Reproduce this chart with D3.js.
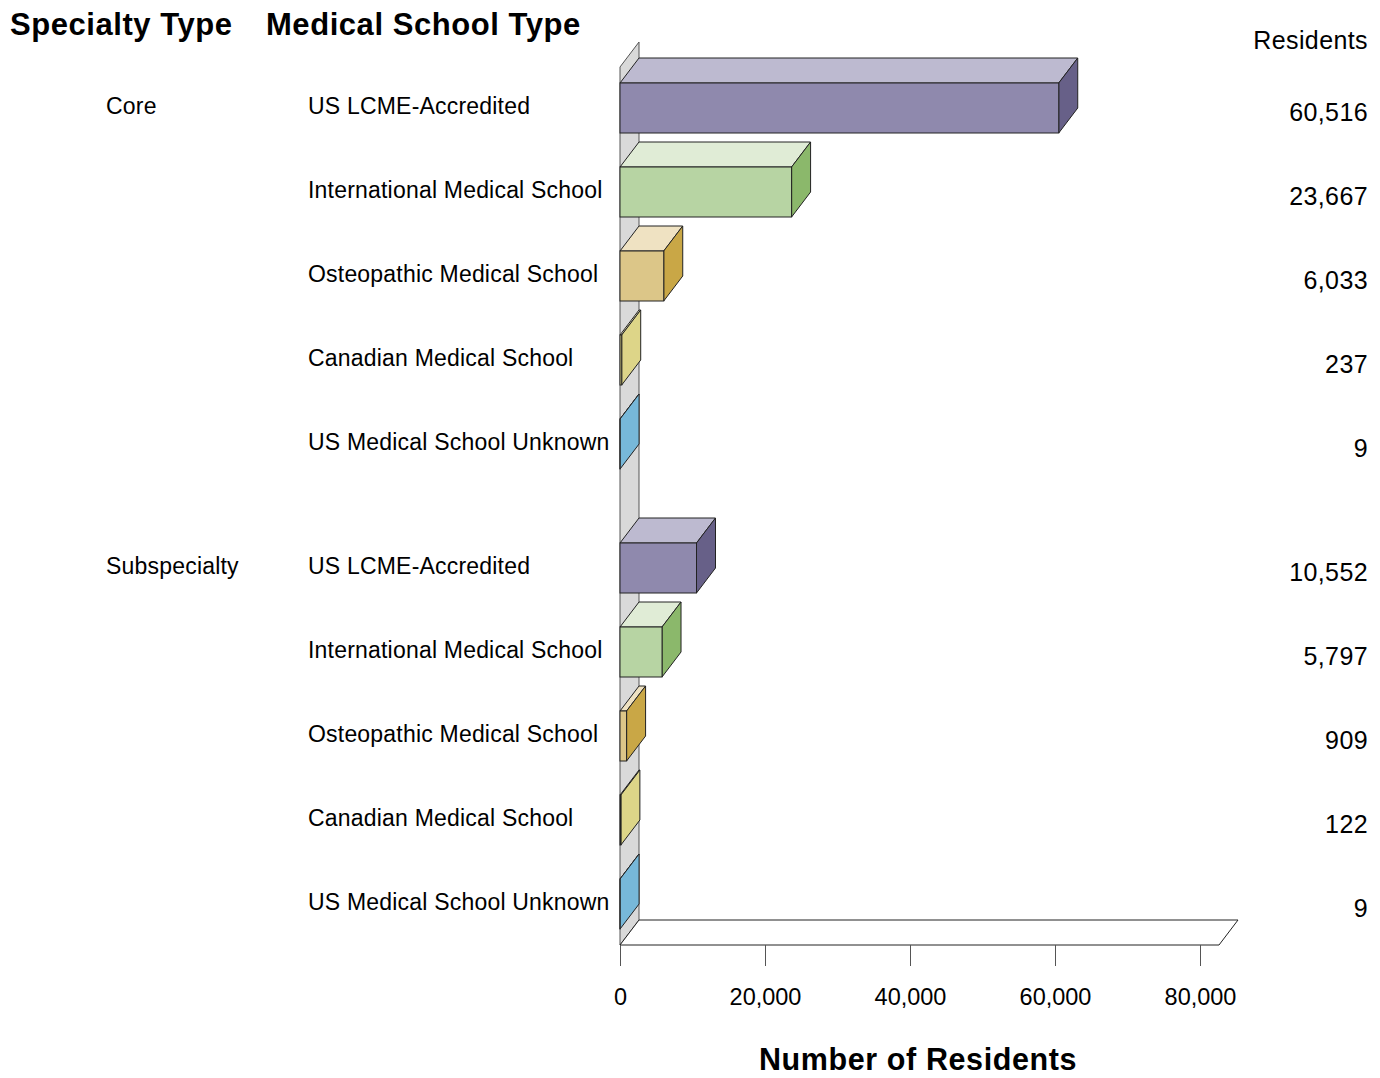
<!DOCTYPE html>
<html>
<head>
<meta charset="utf-8">
<script src="https://cdn.jsdelivr.net/npm/d3@7"></script>
<style>
  html, body { margin: 0; padding: 0; background: #fff; }
  svg { display: block; font-family: "Liberation Sans", Arial, sans-serif; }
</style>
</head>
<body>
<svg id="chart" width="1380" height="1078"></svg>
<script>
const specialtyTypes = ["Core", "Subspecialty"];
const schoolTypes = ["US LCME-Accredited", "International Medical School", "Osteopathic Medical School", "Canadian Medical School", "US Medical School Unknown"];
const coreValues = [60516, 23667, 6033, 237, 9];
const subspecialtyValues = [10552, 5797, 909, 122, 9];
const tickValues = [0, 20000, 40000, 60000, 80000];

const seriesValues = { "Core": coreValues, "Subspecialty": subspecialtyValues };

const colors = {
  "US LCME-Accredited":        { front: "#8f89ad", top: "#bdbad0", side: "#676088" },
  "International Medical School": { front: "#b7d4a3", top: "#e0ecd6", side: "#8bb86b" },
  "Osteopathic Medical School": { front: "#dcc688", top: "#efe2c2", side: "#c9a746" },
  "Canadian Medical School":   { front: "#ddd588", top: "#efeac4", side: "#ddd588" },
  "US Medical School Unknown": { front: "#77b8d9", top: "#bcdcec", side: "#77b8d9" }
};

const svg = d3.select("#chart");
const DX = 19, DY = -25;

const x = d3.scaleLinear().domain([0, 80000]).range([620, 1200]);
const yTop = 66, yBot = 946;

const yGroup = d3.scaleBand().domain(specialtyTypes).range([yTop, yBot])
  .paddingInner(40 / 460).paddingOuter(0);
const pIn = 34 / 84;
const ySchool = d3.scaleBand().domain(schoolTypes).range([0, yGroup.bandwidth()])
  .paddingInner(pIn).paddingOuter(pIn / 2);

const x0 = x(0);
const xEnd = x(80000) + DX;
const wallTop = yTop + 1, wallBot = yBot - 1;

// wall
svg.append("path")
  .attr("d", `M${x0},${wallTop} L${x0 + DX},${wallTop + DY} L${x0 + DX},${wallBot + DY} L${x0},${wallBot} Z`)
  .attr("fill", "#d9d9d9").attr("stroke", "#555").attr("stroke-width", 1);

// floor
svg.append("path")
  .attr("d", `M${x0},${wallBot} L${x0 + DX},${wallBot + DY} L${xEnd + DX},${wallBot + DY} L${xEnd},${wallBot} Z`)
  .attr("fill", "#fff").attr("stroke", "#222").attr("stroke-width", 1);

// axis
const axis = d3.axisBottom(x).tickValues(tickValues).tickSize(21).tickPadding(22)
  .tickFormat(d3.format(","));
const ag = svg.append("g").attr("transform", `translate(0,${wallBot})`).call(axis);
ag.select(".domain").remove();
ag.selectAll(".tick line").attr("stroke", "#555");
ag.selectAll(".tick text").attr("font-size", 23.5).attr("fill", "#000")
  .attr("font-family", "'Liberation Sans', Arial, sans-serif");

// bars
const rows = [];
specialtyTypes.forEach(g => {
  schoolTypes.forEach((s, i) => rows.push({ group: g, school: s, value: seriesValues[g][i] }));
});

const bars = svg.append("g").selectAll("g.bar").data(rows).join("g").attr("class", "bar");
bars.each(function(d) {
  const g = d3.select(this);
  const yb = yGroup(d.group) + ySchool(d.school);
  const h = ySchool.bandwidth();
  const xr = x(d.value);
  const c = colors[d.school];
  g.append("path")
    .attr("d", `M${x0},${yb} L${x0 + DX},${yb + DY} L${xr + DX},${yb + DY} L${xr},${yb} Z`)
    .attr("fill", c.top).attr("stroke", "#222").attr("stroke-width", 1).attr("stroke-linejoin", "round");
  g.append("path")
    .attr("d", `M${xr},${yb} L${xr + DX},${yb + DY} L${xr + DX},${yb + h + DY} L${xr},${yb + h} Z`)
    .attr("fill", c.side).attr("stroke", "#222").attr("stroke-width", 1).attr("stroke-linejoin", "round");
  g.append("rect")
    .attr("x", x0).attr("y", yb).attr("width", Math.max(0, xr - x0)).attr("height", h)
    .attr("fill", c.front).attr("stroke", "#222").attr("stroke-width", 1);
});

// labels
const labelSize = 23;
const lab = svg.append("g");
specialtyTypes.forEach(g => {
  lab.append("text").attr("x", 106)
    .attr("y", yGroup(g) + ySchool(schoolTypes[0]) + ySchool.bandwidth() / 2 - 2)
    .attr("dy", "0.35em").attr("font-size", labelSize).attr("letter-spacing", 0.2).text(g);
});
rows.forEach(d => {
  const yc = yGroup(d.group) + ySchool(d.school) + ySchool.bandwidth() / 2;
  lab.append("text").attr("x", 308).attr("y", yc - 2).attr("dy", "0.35em")
    .attr("font-size", labelSize).attr("letter-spacing", 0.2).text(d.school);
  lab.append("text").attr("x", 1368).attr("y", yc + 4).attr("dy", "0.35em")
    .attr("text-anchor", "end").attr("font-size", 25).attr("letter-spacing", 0.4)
    .text(d3.format(",")(d.value));
});

// headers
svg.append("text").attr("x", 10).attr("y", 24).attr("dy", "0.35em")
  .attr("font-size", 31).attr("font-weight", "bold").attr("letter-spacing", 0.55).text("Specialty Type");
svg.append("text").attr("x", 266).attr("y", 24).attr("dy", "0.35em")
  .attr("font-size", 31).attr("font-weight", "bold").attr("letter-spacing", 0.55).text("Medical School Type");
svg.append("text").attr("x", 1368).attr("y", 40).attr("dy", "0.35em")
  .attr("text-anchor", "end").attr("font-size", 25).attr("letter-spacing", 0.4).text("Residents");
svg.append("text").attr("x", 918).attr("y", 1059).attr("dy", "0.35em")
  .attr("text-anchor", "middle").attr("font-size", 30.5).attr("font-weight", "bold").attr("letter-spacing", 0.6)
  .text("Number of Residents");
</script>
</body>
</html>
